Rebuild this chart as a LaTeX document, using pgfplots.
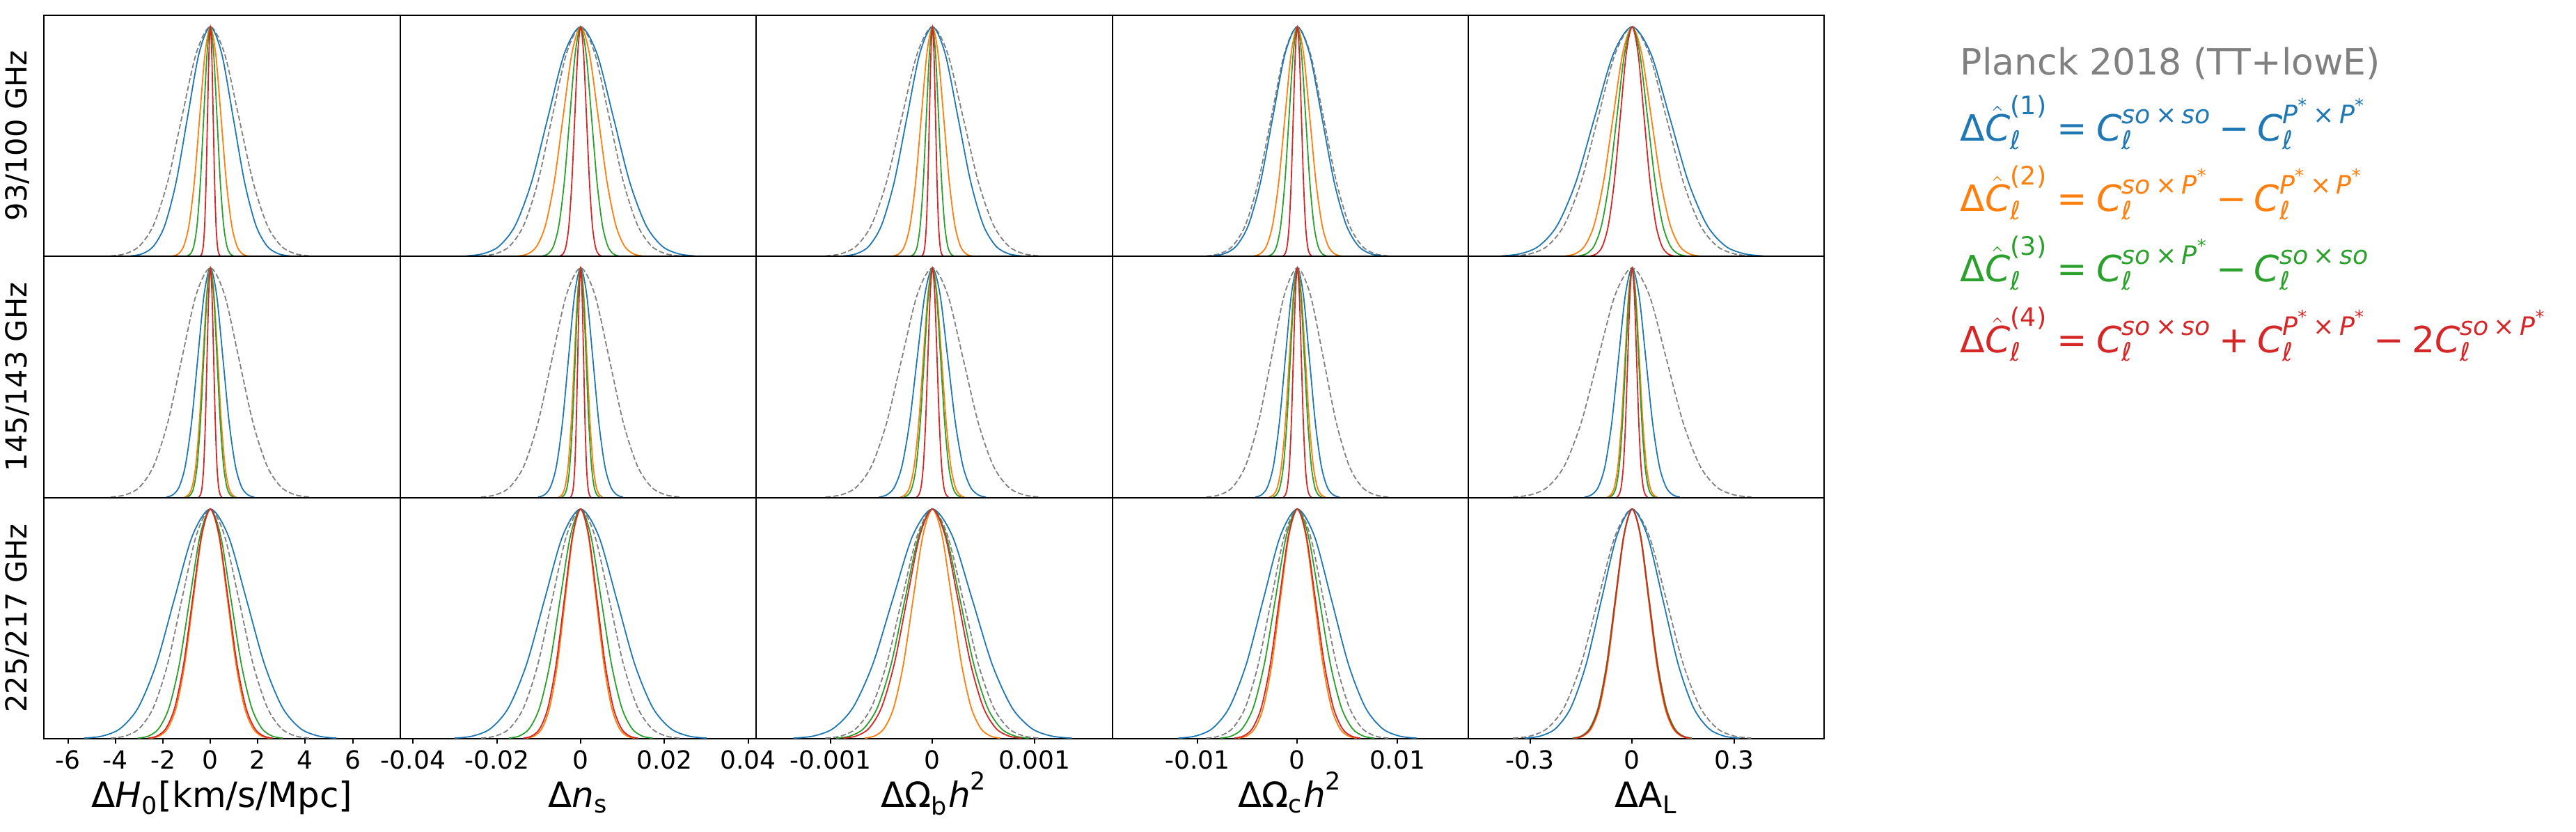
\documentclass[border=0pt]{standalone}
\usepackage{amsmath}
\usepackage{pgfplots}
\pgfplotsset{compat=1.18}
\usepackage{pgfplotstable}
\usepackage{fontspec}
\setmainfont{DejaVu Sans}
\definecolor{cb}{HTML}{1F77B4}
\definecolor{co}{HTML}{FF7F0E}
\definecolor{cg}{HTML}{2CA02C}
\definecolor{cr}{HTML}{D62728}
\definecolor{ck}{HTML}{808080}
\newcommand\mi[1]{\text{\itshape #1}}
\newcommand\mt[1]{\text{#1}}
\newcommand\tm{\mkern3.5mu\mt{×}\mkern3.5mu}
\newcommand\Ps{\mi{P}^{\mt{*}}}

% ---------- H0 ----------
\pgfplotstableread{
y xb xo xg xr xk
0.0022 -3.36 -1.575 -0.98 -0.42 -4.2
0.0111 -2.88 -1.35 -0.84 -0.36 -3.6
0.0439 -2.4 -1.125 -0.7 -0.3 -3
0.1353 -1.92 -0.9 -0.56 -0.24 -2.4
0.3247 -1.44 -0.675 -0.42 -0.18 -1.8
0.6065 -0.96 -0.45 -0.28 -0.12 -1.2
0.8825 -0.48 -0.225 -0.14 -0.06 -0.6
1 0 0 0 0 0
0.8825 0.48 0.225 0.14 0.06 0.6
0.6065 0.96 0.45 0.28 0.12 1.2
0.3247 1.44 0.675 0.42 0.18 1.8
0.1353 1.92 0.9 0.56 0.24 2.4
0.0439 2.4 1.125 0.7 0.3 3
0.0111 2.88 1.35 0.84 0.36 3.6
0.0022 3.36 1.575 0.98 0.42 4.2
}\tHa
\pgfplotstableread{
y xb xo xg xr xk
0.0022 -1.855 -1.085 -0.98 -0.49 -4.2
0.0111 -1.59 -0.93 -0.84 -0.42 -3.6
0.0439 -1.325 -0.775 -0.7 -0.35 -3
0.1353 -1.06 -0.62 -0.56 -0.28 -2.4
0.3247 -0.795 -0.465 -0.42 -0.21 -1.8
0.6065 -0.53 -0.31 -0.28 -0.14 -1.2
0.8825 -0.265 -0.155 -0.14 -0.07 -0.6
1 0 0 0 0 0
0.8825 0.265 0.155 0.14 0.07 0.6
0.6065 0.53 0.31 0.28 0.14 1.2
0.3247 0.795 0.465 0.42 0.21 1.8
0.1353 1.06 0.62 0.56 0.28 2.4
0.0439 1.325 0.775 0.7 0.35 3
0.0111 1.59 0.93 0.84 0.42 3.6
0.0022 1.855 1.085 0.98 0.49 4.2
}\tHb
\pgfplotstableread{
y xb xo xg xr xk
0.0022 -5.32 -2.52 -3.045 -2.625 -4.2
0.0111 -4.56 -2.16 -2.61 -2.25 -3.6
0.0439 -3.8 -1.8 -2.175 -1.875 -3
0.1353 -3.04 -1.44 -1.74 -1.5 -2.4
0.3247 -2.28 -1.08 -1.305 -1.125 -1.8
0.6065 -1.52 -0.72 -0.87 -0.75 -1.2
0.8825 -0.76 -0.36 -0.435 -0.375 -0.6
1 0 0 0 0 0
0.8825 0.76 0.36 0.435 0.375 0.6
0.6065 1.52 0.72 0.87 0.75 1.2
0.3247 2.28 1.08 1.305 1.125 1.8
0.1353 3.04 1.44 1.74 1.5 2.4
0.0439 3.8 1.8 2.175 1.875 3
0.0111 4.56 2.16 2.61 2.25 3.6
0.0022 5.32 2.52 3.045 2.625 4.2
}\tHc
% ---------- n_s ----------
\pgfplotstableread{
y xb xo xg xr xk
0.0022 -0.0273 -0.0147 -0.0091 -0.0049 -0.0238
0.0111 -0.0234 -0.0126 -0.0078 -0.0042 -0.0204
0.0439 -0.0195 -0.0105 -0.0065 -0.0035 -0.017
0.1353 -0.0156 -0.0084 -0.0052 -0.0028 -0.0136
0.3247 -0.0117 -0.0063 -0.0039 -0.0021 -0.0102
0.6065 -0.0078 -0.0042 -0.0026 -0.0014 -0.0068
0.8825 -0.0039 -0.0021 -0.0013 -0.0007 -0.0034
1 0 0 0 0 0
0.8825 0.0039 0.0021 0.0013 0.0007 0.0034
0.6065 0.0078 0.0042 0.0026 0.0014 0.0068
0.3247 0.0117 0.0063 0.0039 0.0021 0.0102
0.1353 0.0156 0.0084 0.0052 0.0028 0.0136
0.0439 0.0195 0.0105 0.0065 0.0035 0.017
0.0111 0.0234 0.0126 0.0078 0.0042 0.0204
0.0022 0.0273 0.0147 0.0091 0.0049 0.0238
}\tNa
\pgfplotstableread{
y xb xo xg xr xk
0.0022 -0.01015 -0.00525 -0.00455 -0.00245 -0.0238
0.0111 -0.0087 -0.0045 -0.0039 -0.0021 -0.0204
0.0439 -0.00725 -0.00375 -0.00325 -0.00175 -0.017
0.1353 -0.0058 -0.003 -0.0026 -0.0014 -0.0136
0.3247 -0.00435 -0.00225 -0.00195 -0.00105 -0.0102
0.6065 -0.0029 -0.0015 -0.0013 -0.0007 -0.0068
0.8825 -0.00145 -0.00075 -0.00065 -0.00035 -0.0034
1 0 0 0 0 0
0.8825 0.00145 0.00075 0.00065 0.00035 0.0034
0.6065 0.0029 0.0015 0.0013 0.0007 0.0068
0.3247 0.00435 0.00225 0.00195 0.00105 0.0102
0.1353 0.0058 0.003 0.0026 0.0014 0.0136
0.0439 0.00725 0.00375 0.00325 0.00175 0.017
0.0111 0.0087 0.0045 0.0039 0.0021 0.0204
0.0022 0.01015 0.00525 0.00455 0.00245 0.0238
}\tNb
\pgfplotstableread{
y xb xo xg xr xk
0.0022 -0.0301 -0.01295 -0.01715 -0.01365 -0.0238
0.0111 -0.0258 -0.0111 -0.0147 -0.0117 -0.0204
0.0439 -0.0215 -0.00925 -0.01225 -0.00975 -0.017
0.1353 -0.0172 -0.0074 -0.0098 -0.0078 -0.0136
0.3247 -0.0129 -0.00555 -0.00735 -0.00585 -0.0102
0.6065 -0.0086 -0.0037 -0.0049 -0.0039 -0.0068
0.8825 -0.0043 -0.00185 -0.00245 -0.00195 -0.0034
1 0 0 0 0 0
0.8825 0.0043 0.00185 0.00245 0.00195 0.0034
0.6065 0.0086 0.0037 0.0049 0.0039 0.0068
0.3247 0.0129 0.00555 0.00735 0.00585 0.0102
0.1353 0.0172 0.0074 0.0098 0.0078 0.0136
0.0439 0.0215 0.00925 0.01225 0.00975 0.017
0.0111 0.0258 0.0111 0.0147 0.0117 0.0204
0.0022 0.0301 0.01295 0.01715 0.01365 0.0238
}\tNc
% ---------- Omega_b h^2 ----------
\pgfplotstableread{
y xb xo xg xr xk
0.0022 -0.000875 -0.000385 -0.00021 -0.000105 -0.00105
0.0111 -0.00075 -0.00033 -0.00018 -0.00009 -0.0009
0.0439 -0.000625 -0.000275 -0.00015 -0.000075 -0.00075
0.1353 -0.0005 -0.00022 -0.00012 -0.00006 -0.0006
0.3247 -0.000375 -0.000165 -0.00009 -0.000045 -0.00045
0.6065 -0.00025 -0.00011 -0.00006 -0.00003 -0.0003
0.8825 -0.000125 -0.000055 -0.00003 -0.000015 -0.00015
1 0 0 0 0 0
0.8825 0.000125 0.000055 0.00003 0.000015 0.00015
0.6065 0.00025 0.00011 0.00006 0.00003 0.0003
0.3247 0.000375 0.000165 0.00009 0.000045 0.00045
0.1353 0.0005 0.00022 0.00012 0.00006 0.0006
0.0439 0.000625 0.000275 0.00015 0.000075 0.00075
0.0111 0.00075 0.00033 0.00018 0.00009 0.0009
0.0022 0.000875 0.000385 0.00021 0.000105 0.00105
}\tBa
\pgfplotstableread{
y xb xo xg xr xk
0.0022 -0.000525 -0.000315 -0.00028 -0.0001575 -0.00105
0.0111 -0.00045 -0.00027 -0.00024 -0.000135 -0.0009
0.0439 -0.000375 -0.000225 -0.0002 -0.0001125 -0.00075
0.1353 -0.0003 -0.00018 -0.00016 -0.00009 -0.0006
0.3247 -0.000225 -0.000135 -0.00012 -0.0000675 -0.00045
0.6065 -0.00015 -0.00009 -0.00008 -0.000045 -0.0003
0.8825 -0.000075 -0.000045 -0.00004 -0.0000225 -0.00015
1 0 0 0 0 0
0.8825 0.000075 0.000045 0.00004 0.0000225 0.00015
0.6065 0.00015 0.00009 0.00008 0.000045 0.0003
0.3247 0.000225 0.000135 0.00012 0.0000675 0.00045
0.1353 0.0003 0.00018 0.00016 0.00009 0.0006
0.0439 0.000375 0.000225 0.0002 0.0001125 0.00075
0.0111 0.00045 0.00027 0.00024 0.000135 0.0009
0.0022 0.000525 0.000315 0.00028 0.0001575 0.00105
}\tBb
\pgfplotstableread{
y xb xo xg xr xk
0.0022 -0.001365 -0.000665 -0.000945 -0.000875 -0.00105
0.0111 -0.00117 -0.00057 -0.00081 -0.00075 -0.0009
0.0439 -0.000975 -0.000475 -0.000675 -0.000625 -0.00075
0.1353 -0.00078 -0.00038 -0.00054 -0.0005 -0.0006
0.3247 -0.000585 -0.000285 -0.000405 -0.000375 -0.00045
0.6065 -0.00039 -0.00019 -0.00027 -0.00025 -0.0003
0.8825 -0.000195 -0.000095 -0.000135 -0.000125 -0.00015
1 0 0 0 0 0
0.8825 0.000195 0.000095 0.000135 0.000125 0.00015
0.6065 0.00039 0.00019 0.00027 0.00025 0.0003
0.3247 0.000585 0.000285 0.000405 0.000375 0.00045
0.1353 0.00078 0.00038 0.00054 0.0005 0.0006
0.0439 0.000975 0.000475 0.000675 0.000625 0.00075
0.0111 0.00117 0.00057 0.00081 0.00075 0.0009
0.0022 0.001365 0.000665 0.000945 0.000875 0.00105
}\tBc
% ---------- Omega_c h^2 ----------
\pgfplotstableread{
y xb xo xg xr xk
0.0022 -0.008575 -0.00434 -0.002905 -0.001435 -0.0091
0.0111 -0.00735 -0.00372 -0.00249 -0.00123 -0.0078
0.0439 -0.006125 -0.0031 -0.002075 -0.001025 -0.0065
0.1353 -0.0049 -0.00248 -0.00166 -0.00082 -0.0052
0.3247 -0.003675 -0.00186 -0.001245 -0.000615 -0.0039
0.6065 -0.00245 -0.00124 -0.00083 -0.00041 -0.0026
0.8825 -0.001225 -0.00062 -0.000415 -0.000205 -0.0013
1 0 0 0 0 0
0.8825 0.001225 0.00062 0.000415 0.000205 0.0013
0.6065 0.00245 0.00124 0.00083 0.00041 0.0026
0.3247 0.003675 0.00186 0.001245 0.000615 0.0039
0.1353 0.0049 0.00248 0.00166 0.00082 0.0052
0.0439 0.006125 0.0031 0.002075 0.001025 0.0065
0.0111 0.00735 0.00372 0.00249 0.00123 0.0078
0.0022 0.008575 0.00434 0.002905 0.001435 0.0091
}\tCa
\pgfplotstableread{
y xb xo xg xr xk
0.0022 -0.0042 -0.0028 -0.00245 -0.0014 -0.0091
0.0111 -0.0036 -0.0024 -0.0021 -0.0012 -0.0078
0.0439 -0.003 -0.002 -0.00175 -0.001 -0.0065
0.1353 -0.0024 -0.0016 -0.0014 -0.0008 -0.0052
0.3247 -0.0018 -0.0012 -0.00105 -0.0006 -0.0039
0.6065 -0.0012 -0.0008 -0.0007 -0.0004 -0.0026
0.8825 -0.0006 -0.0004 -0.00035 -0.0002 -0.0013
1 0 0 0 0 0
0.8825 0.0006 0.0004 0.00035 0.0002 0.0013
0.6065 0.0012 0.0008 0.0007 0.0004 0.0026
0.3247 0.0018 0.0012 0.00105 0.0006 0.0039
0.1353 0.0024 0.0016 0.0014 0.0008 0.0052
0.0439 0.003 0.002 0.00175 0.001 0.0065
0.0111 0.0036 0.0024 0.0021 0.0012 0.0078
0.0022 0.0042 0.0028 0.00245 0.0014 0.0091
}\tCb
\pgfplotstableread{
y xb xo xg xr xk
0.0022 -0.0119 -0.00595 -0.0077 -0.0063 -0.0091
0.0111 -0.0102 -0.0051 -0.0066 -0.0054 -0.0078
0.0439 -0.0085 -0.00425 -0.0055 -0.0045 -0.0065
0.1353 -0.0068 -0.0034 -0.0044 -0.0036 -0.0052
0.3247 -0.0051 -0.00255 -0.0033 -0.0027 -0.0039
0.6065 -0.0034 -0.0017 -0.0022 -0.0018 -0.0026
0.8825 -0.0017 -0.00085 -0.0011 -0.0009 -0.0013
1 0 0 0 0 0
0.8825 0.0017 0.00085 0.0011 0.0009 0.0013
0.6065 0.0034 0.0017 0.0022 0.0018 0.0026
0.3247 0.0051 0.00255 0.0033 0.0027 0.0039
0.1353 0.0068 0.0034 0.0044 0.0036 0.0052
0.0439 0.0085 0.00425 0.0055 0.0045 0.0065
0.0111 0.0102 0.0051 0.0066 0.0054 0.0078
0.0022 0.0119 0.00595 0.0077 0.0063 0.0091
}\tCc
% ---------- A_L ----------
\pgfplotstableread{
y xb xo xg xr xk
0.0022 -0.385 -0.196 -0.1575 -0.1225 -0.35
0.0111 -0.33 -0.168 -0.135 -0.105 -0.3
0.0439 -0.275 -0.14 -0.1125 -0.0875 -0.25
0.1353 -0.22 -0.112 -0.09 -0.07 -0.2
0.3247 -0.165 -0.084 -0.0675 -0.0525 -0.15
0.6065 -0.11 -0.056 -0.045 -0.035 -0.1
0.8825 -0.055 -0.028 -0.0225 -0.0175 -0.05
1 0 0 0 0 0
0.8825 0.055 0.028 0.0225 0.0175 0.05
0.6065 0.11 0.056 0.045 0.035 0.1
0.3247 0.165 0.084 0.0675 0.0525 0.15
0.1353 0.22 0.112 0.09 0.07 0.2
0.0439 0.275 0.14 0.1125 0.0875 0.25
0.0111 0.33 0.168 0.135 0.105 0.3
0.0022 0.385 0.196 0.1575 0.1225 0.35
}\tLa
\pgfplotstableread{
y xb xo xg xr xk
0.0022 -0.14 -0.0735 -0.0665 -0.0455 -0.35
0.0111 -0.12 -0.063 -0.057 -0.039 -0.3
0.0439 -0.1 -0.0525 -0.0475 -0.0325 -0.25
0.1353 -0.08 -0.042 -0.038 -0.026 -0.2
0.3247 -0.06 -0.0315 -0.0285 -0.0195 -0.15
0.6065 -0.04 -0.021 -0.019 -0.013 -0.1
0.8825 -0.02 -0.0105 -0.0095 -0.0065 -0.05
1 0 0 0 0 0
0.8825 0.02 0.0105 0.0095 0.0065 0.05
0.6065 0.04 0.021 0.019 0.013 0.1
0.3247 0.06 0.0315 0.0285 0.0195 0.15
0.1353 0.08 0.042 0.038 0.026 0.2
0.0439 0.1 0.0525 0.0475 0.0325 0.25
0.0111 0.12 0.063 0.057 0.039 0.3
0.0022 0.14 0.0735 0.0665 0.0455 0.35
}\tLb
\pgfplotstableread{
y xb xo xg xr xk
0.0022 -0.315 -0.168 -0.175 -0.1715 -0.35
0.0111 -0.27 -0.144 -0.15 -0.147 -0.3
0.0439 -0.225 -0.12 -0.125 -0.1225 -0.25
0.1353 -0.18 -0.096 -0.1 -0.098 -0.2
0.3247 -0.135 -0.072 -0.075 -0.0735 -0.15
0.6065 -0.09 -0.048 -0.05 -0.049 -0.1
0.8825 -0.045 -0.024 -0.025 -0.0245 -0.05
1 0 0 0 0 0
0.8825 0.045 0.024 0.025 0.0245 0.05
0.6065 0.09 0.048 0.05 0.049 0.1
0.3247 0.135 0.072 0.075 0.0735 0.15
0.1353 0.18 0.096 0.1 0.098 0.2
0.0439 0.225 0.12 0.125 0.1225 0.25
0.0111 0.27 0.144 0.15 0.147 0.3
0.0022 0.315 0.168 0.175 0.1715 0.35
}\tLc

\pgfplotsset{
  panel/.style={width=127.85pt,height=86.575pt,scale only axis,anchor=south west,
    ymin=0,ymax=1.05,ytick=\empty,xtick=\empty,
    axis line style={line width=0.5pt},clip=true},
  bot/.style={xtick pos=lower,xtick align=outside,major tick length=1.75pt,
    scaled x ticks=false,
    every tick/.style={black,line width=0.5pt},
    xticklabel style={font=\fontsize{9}{10}\selectfont,anchor=base,inner sep=0pt,yshift=-9.25pt}},
  cH/.style={xmin=-7.01,xmax=8.0},
  cN/.style={xmin=-0.0431,xmax=0.0419},
  cB/.style={xmin=-0.00173,xmax=0.001764},
  cC/.style={xmin=-0.0185,xmax=0.01708},
  cL/.style={xmin=-0.4814,xmax=0.5644},
}
\newcommand\curves[1]{%
  \addplot[ck,line width=0.45pt,dash pattern=on 1.9pt off 0.9pt,smooth] table[x=xk,y=y]{#1};
  \addplot[cb,line width=0.45pt,smooth] table[x=xb,y=y]{#1};
  \addplot[co,line width=0.45pt,smooth] table[x=xo,y=y]{#1};
  \addplot[cg,line width=0.45pt,smooth] table[x=xg,y=y]{#1};
  \addplot[cr,line width=0.45pt,smooth] table[x=xr,y=y]{#1};
}

\begin{document}
\begin{tikzpicture}
\path[use as bounding box] (0pt,0pt) rectangle (925pt,298.75pt);
% row 1
\begin{axis}[panel,cH,at={(15.825pt,206.675pt)}]\curves\tHa\end{axis}
\begin{axis}[panel,cN,at={(143.675pt,206.675pt)}]\curves\tNa\end{axis}
\begin{axis}[panel,cB,at={(271.525pt,206.675pt)}]\curves\tBa\end{axis}
\begin{axis}[panel,cC,at={(399.375pt,206.675pt)}]\curves\tCa\end{axis}
\begin{axis}[panel,cL,at={(527.225pt,206.675pt)}]\curves\tLa\end{axis}
% row 2
\begin{axis}[panel,cH,at={(15.825pt,120.1pt)}]\curves\tHb\end{axis}
\begin{axis}[panel,cN,at={(143.675pt,120.1pt)}]\curves\tNb\end{axis}
\begin{axis}[panel,cB,at={(271.525pt,120.1pt)}]\curves\tBb\end{axis}
\begin{axis}[panel,cC,at={(399.375pt,120.1pt)}]\curves\tCb\end{axis}
\begin{axis}[panel,cL,at={(527.225pt,120.1pt)}]\curves\tLb\end{axis}
% row 3
\begin{axis}[panel,cH,bot,at={(15.825pt,33.525pt)},
  xtick={-6,-4,-2,0,2,4,6},xticklabels={-6,-4,-2,0,2,4,6}]\curves\tHc\end{axis}
\begin{axis}[panel,cN,bot,at={(143.675pt,33.525pt)},
  xtick={-0.04,-0.02,0,0.02,0.04},xticklabels={-0.04,-0.02,0,0.02,0.04}]\curves\tNc\end{axis}
\begin{axis}[panel,cB,bot,at={(271.525pt,33.525pt)},
  xtick={-0.001,0,0.001},xticklabels={-0.001,0,0.001}]\curves\tBc\end{axis}
\begin{axis}[panel,cC,bot,at={(399.375pt,33.525pt)},
  xtick={-0.01,0,0.01},xticklabels={-0.01,0,0.01}]\curves\tCc\end{axis}
\begin{axis}[panel,cL,bot,at={(527.225pt,33.525pt)},
  xtick={-0.3,0,0.3},xticklabels={-0.3,0,0.3}]\curves\tLc\end{axis}

% x labels
\begin{scope}[every node/.style={anchor=base,inner sep=0pt,font=\fontsize{12.5}{14}\selectfont}]
\node at (79.75pt,8.75pt) {$\mt{Δ}\mi{H}_{\mt{0}}\mt{[km/s/Mpc]}$};
\node at (207.6pt,8.75pt) {$\mt{Δ}\mi{n}_{\mt{s}}$};
\node at (335.45pt,8.75pt) {$\mt{ΔΩ}_{\mt{b}}\mi{h}^{\mt{2}}$};
\node at (463.3pt,8.75pt) {$\mt{ΔΩ}_{\mt{c}}\mi{h}^{\mt{2}}$};
\node at (591.15pt,8.75pt) {$\mt{ΔA}_{\mt{L}}$};
\end{scope}
% row labels
\begin{scope}[every node/.style={anchor=base,inner sep=0pt,rotate=90,font=\fontsize{10.4}{12}\selectfont}]
\node at (9.5pt,250pt) {93/100 GHz};
\node at (9.5pt,163.375pt) {145/143 GHz};
\node at (9.5pt,76.8pt) {225/217 GHz};
\end{scope}
% legend
\begin{scope}[every node/.style={anchor=base west,inner sep=0pt,font=\fontsize{13}{15}\selectfont}]
\node[text=ck] at (703.75pt,271.75pt) {Planck 2018 (TT+lowE)};
\node[text=cb] at (703.75pt,248pt) {$\mt{Δ}\hat{\mi{C}}^{\mt{(1)}}_{\mi{ℓ}}\mathrel{\mt{=}}\mi{C}^{\mi{so}\tm\mi{so}}_{\mi{ℓ}}\mathbin{\mt{−}}\mi{C}^{\Ps\tm\Ps}_{\mi{ℓ}}$};
\node[text=co] at (703.75pt,222.75pt) {$\mt{Δ}\hat{\mi{C}}^{\mt{(2)}}_{\mi{ℓ}}\mathrel{\mt{=}}\mi{C}^{\mi{so}\tm\Ps}_{\mi{ℓ}}\mathbin{\mt{−}}\mi{C}^{\Ps\tm\Ps}_{\mi{ℓ}}$};
\node[text=cg] at (703.75pt,197.5pt) {$\mt{Δ}\hat{\mi{C}}^{\mt{(3)}}_{\mi{ℓ}}\mathrel{\mt{=}}\mi{C}^{\mi{so}\tm\Ps}_{\mi{ℓ}}\mathbin{\mt{−}}\mi{C}^{\mi{so}\tm\mi{so}}_{\mi{ℓ}}$};
\node[text=cr] at (703.75pt,172pt) {$\mt{Δ}\hat{\mi{C}}^{\mt{(4)}}_{\mi{ℓ}}\mathrel{\mt{=}}\mi{C}^{\mi{so}\tm\mi{so}}_{\mi{ℓ}}\mathbin{\mt{+}}\mi{C}^{\Ps\tm\Ps}_{\mi{ℓ}}\mathbin{\mt{−}}\mt{2}\mi{C}^{\mi{so}\tm\Ps}_{\mi{ℓ}}$};
\end{scope}
\end{tikzpicture}
\end{document}
